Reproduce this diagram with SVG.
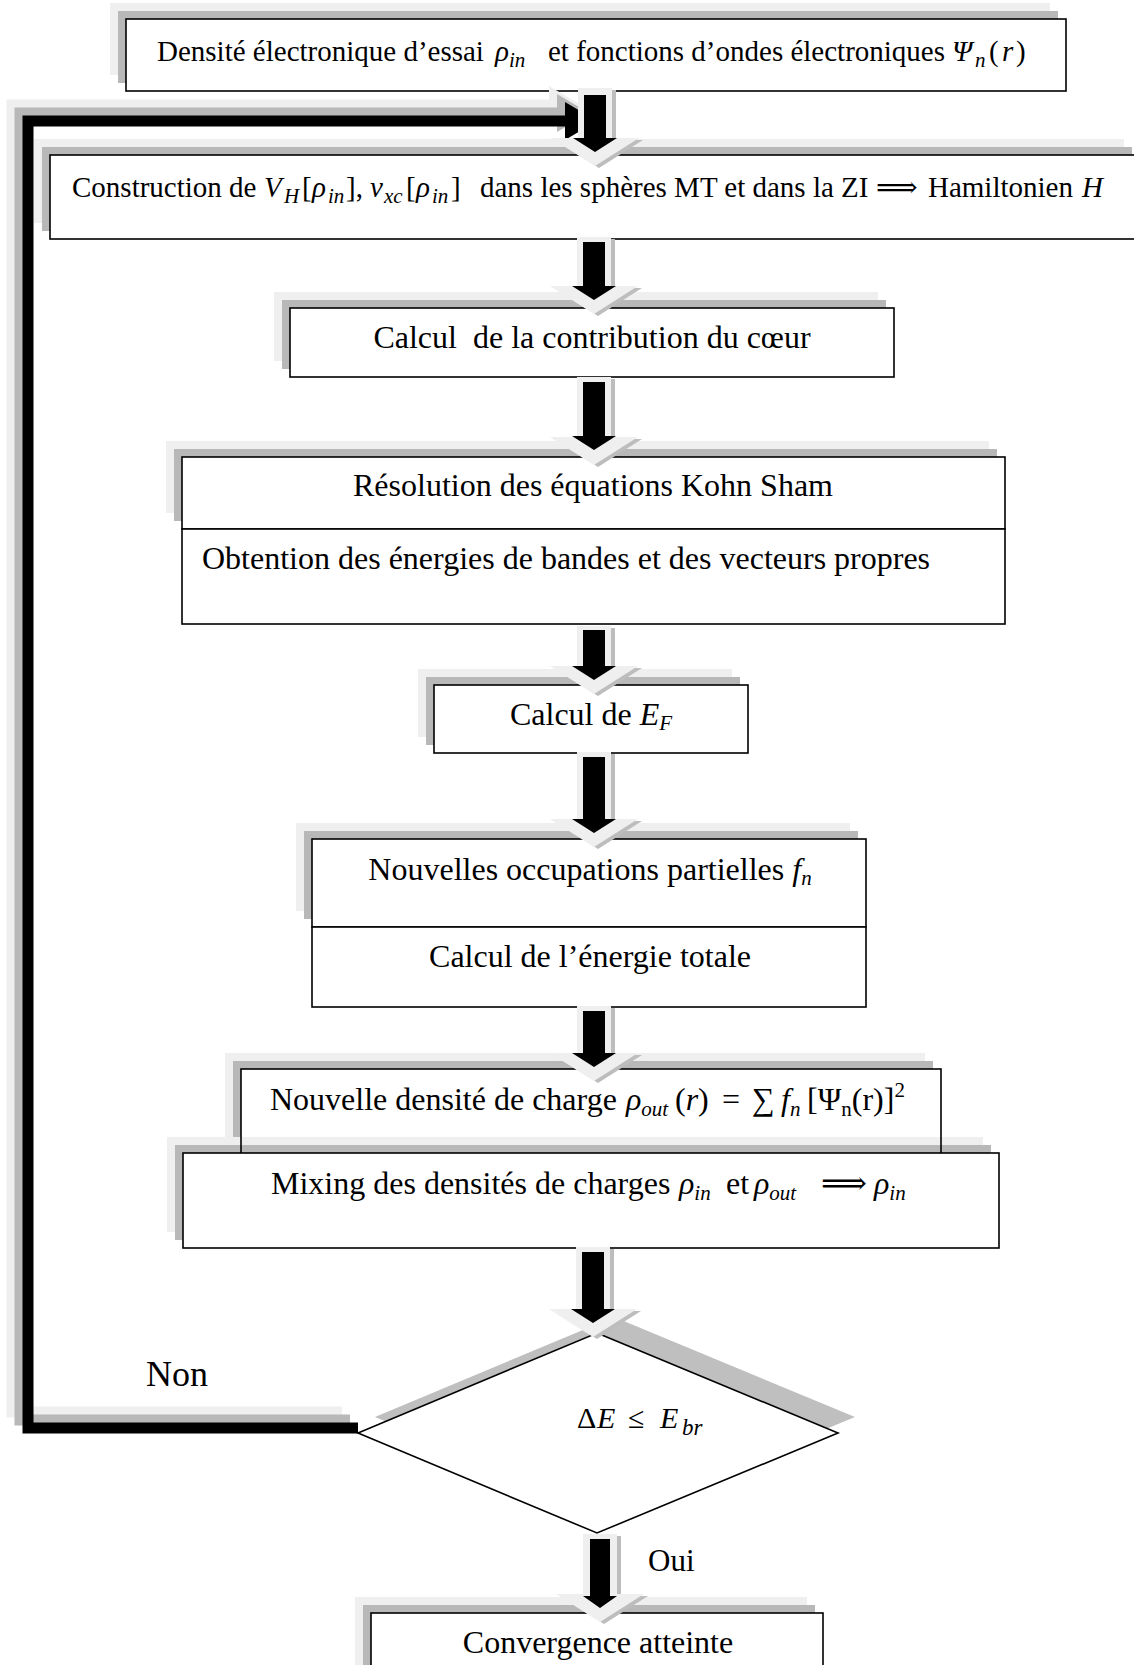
<svg xmlns="http://www.w3.org/2000/svg" width="1134" height="1665" viewBox="0 0 1134 1665">
<defs>
<style>
.box{fill:#fff;stroke:#000;stroke-width:1.6}
.sd{fill:#b8b8b8}
.sl{fill:#efefef}
.t{font-family:"Liberation Serif","Times New Roman",serif;fill:#000}
.f32{font-size:32px}
.f29{font-size:29px}
.sub{font-size:21px}
.m{font-family:"Liberation Serif","Times New Roman",serif;font-style:italic}
.ms{font-family:"DejaVu Serif","DejaVu Sans",serif;font-style:normal}
.ab{fill:#000}
.al{fill:#efefef}
.ag{fill:#bdbdbd}
.loopB{fill:none;stroke:#000;stroke-width:11;stroke-linejoin:miter}
.loopD{fill:none;stroke:#b8b8b8;stroke-width:11;stroke-linejoin:miter}
.loopL{fill:none;stroke:#efefef;stroke-width:11;stroke-linejoin:miter}
</style>
<clipPath id="clipE"><rect x="560" y="1390" width="146" height="60"/></clipPath>
</defs>
<rect width="1134" height="1665" fill="#fff"/>

<g id="n1">
<rect class="sl" x="110" y="3" width="940" height="72"/>
<rect class="sd" x="118" y="11" width="940" height="72"/>
<rect class="box" x="126" y="19" width="940" height="72"/>
<text class="t f29" y="61"><tspan x="157">Densité électronique d’essai</tspan><tspan class="m" x="495">ρ</tspan><tspan class="m sub" dy="6">in</tspan><tspan x="548" dy="-6">et fonctions d’ondes électroniques</tspan><tspan class="m" x="952">Ψ</tspan><tspan class="m sub" x="975" dy="6">n</tspan><tspan x="989" dy="-6">(</tspan><tspan class="m" x="1002">r</tspan><tspan x="1016">)</tspan></text>
</g>

<g id="n2">
<rect class="sl" x="34" y="139" width="1090" height="84"/>
<rect class="sd" x="42" y="147" width="1090" height="84"/>
<rect class="box" x="50" y="155" width="1090" height="84"/>
<text class="t f29" y="197"><tspan x="72">Construction de</tspan><tspan class="m" x="264">V</tspan><tspan class="m sub" x="284" dy="6">H</tspan><tspan x="302" dy="-6">[</tspan><tspan class="m" x="312">ρ</tspan><tspan class="m sub" x="328" dy="6">in</tspan><tspan x="346" dy="-6">],</tspan><tspan class="m" x="370">v</tspan><tspan class="m sub" x="384" dy="6">xc</tspan><tspan x="406" dy="-6">[</tspan><tspan class="m" x="416">ρ</tspan><tspan class="m sub" x="432" dy="6">in</tspan><tspan x="451" dy="-6">]</tspan><tspan x="480">dans les sphères MT et dans la ZI</tspan><tspan class="ms" x="876">⟹</tspan><tspan x="928">Hamiltonien</tspan><tspan class="m" x="1082">H</tspan></text>
</g>

<g id="n3">
<rect class="sl" x="274" y="292" width="604" height="69"/>
<rect class="sd" x="282" y="300" width="604" height="69"/>
<rect class="box" x="290" y="308" width="604" height="69"/>
<text class="t f32" x="592" y="348" text-anchor="middle">Calcul&#160; de la contribution du cœur</text>
</g>

<g id="n4">
<rect class="sl" x="166" y="441" width="823" height="72"/>
<rect class="sd" x="174" y="449" width="823" height="72"/>
<rect class="box" x="182" y="457" width="823" height="72"/>
<rect class="box" x="182" y="529" width="823" height="95"/>
<text class="t f32" x="593" y="496" text-anchor="middle">Résolution des équations Kohn Sham</text>
<text class="t f32" x="202" y="569">Obtention des énergies de bandes et des vecteurs propres</text>
</g>

<g id="n5">
<rect class="sl" x="418" y="669" width="314" height="68"/>
<rect class="sd" x="426" y="677" width="314" height="68"/>
<rect class="box" x="434" y="685" width="314" height="68"/>
<text class="t f32" x="591" y="725" text-anchor="middle">Calcul de <tspan class="m">E</tspan><tspan class="m sub" dy="5">F</tspan></text>
</g>

<g id="n6">
<rect class="sl" x="296" y="823" width="554" height="88"/>
<rect class="sd" x="304" y="831" width="554" height="88"/>
<rect class="box" x="312" y="839" width="554" height="88"/>
<rect class="box" x="312" y="927" width="554" height="80"/>
<text class="t f32" x="590" y="880" text-anchor="middle">Nouvelles occupations partielles <tspan class="m">f</tspan><tspan class="m sub" dy="5">n</tspan></text>
<text class="t f32" x="590" y="967" text-anchor="middle">Calcul de l’énergie totale</text>
</g>

<g id="n7">
<rect class="sl" x="225" y="1053" width="700" height="84"/>
<rect class="sd" x="233" y="1061" width="700" height="84"/>
<rect class="box" x="241" y="1069" width="700" height="84"/>
<text class="t f32" y="1110"><tspan x="270">Nouvelle densité de charge</tspan><tspan class="m" x="626">ρ</tspan><tspan class="m sub" dy="6">out</tspan><tspan x="675" dy="-6">(</tspan><tspan class="m">r</tspan><tspan>)</tspan><tspan x="722">=</tspan><tspan x="752">∑</tspan><tspan class="m" x="781">f</tspan><tspan class="m sub" dy="6">n</tspan><tspan x="807" dy="-6">[Ψ</tspan><tspan class="sub" dy="6">n</tspan><tspan dy="-6">(r)]</tspan><tspan class="sub" dy="-13">2</tspan></text>
</g>

<g id="n8">
<rect class="sl" x="167" y="1137" width="816" height="95"/>
<rect class="sd" x="175" y="1145" width="816" height="95"/>
<line x1="241" y1="1137" x2="241" y2="1153" stroke="#000" stroke-width="1.6"/>
<line x1="941" y1="1137" x2="941" y2="1153" stroke="#000" stroke-width="1.6"/>
<rect class="box" x="183" y="1153" width="816" height="95"/>
<text class="t f32" y="1194"><tspan x="271">Mixing des densités de charges</tspan><tspan class="m" x="679">ρ</tspan><tspan class="m sub" dy="6">in</tspan><tspan x="726" dy="-6">et</tspan><tspan class="m" x="754">ρ</tspan><tspan class="m sub" dy="6">out</tspan><tspan class="ms" x="821" dy="-6">⟹</tspan><tspan class="m" x="874">ρ</tspan><tspan class="m sub" dy="6">in</tspan></text>
</g>

<g id="n9">
<polygon fill="#bfbfbf" points="614,1317 855,1417 614,1517 375,1417"/>
<polygon class="box" points="597,1333 838,1433 597,1533 358,1433"/>
<g clip-path="url(#clipE)">
<text class="t" style="font-size:30px" y="1428"><tspan x="577">Δ</tspan><tspan class="m" x="597">E</tspan><tspan x="628">≤</tspan><tspan class="m" x="660">E</tspan><tspan class="m" style="font-size:23px" x="682" dy="7">br</tspan></text>
</g>
</g>

<g id="n10">
<rect class="sl" x="355" y="1597" width="452" height="100"/>
<rect class="sd" x="363" y="1605" width="452" height="100"/>
<rect class="box" x="371" y="1613" width="452" height="100"/>
<text class="t f32" x="598" y="1653" text-anchor="middle">Convergence atteinte</text>
</g>

<g id="labels">
<text class="t" style="font-size:36px" x="146" y="1386">Non</text>
<text class="t" style="font-size:31px" x="648" y="1571">Oui</text>
</g>

<g id="connectors">
<g id="loop">
<g transform="translate(-16,-16)">
<polyline class="loopL" points="358,1428 28,1428 28,121 566,121"/>
<polygon fill="#efefef" points="565,102 565,140 597,121"/>
</g>
<g transform="translate(-8,-8)">
<polyline class="loopD" points="358,1428 28,1428 28,121 566,121"/>
<polygon fill="#b8b8b8" points="565,102 565,140 597,121"/>
</g>
<polyline class="loopB" points="358,1428 28,1428 28,121 566,121"/>
<polygon class="ab" points="565,102 565,140 597,121"/>
</g>

<g id="a1">
<polygon class="ag" points="578,88 612,88 612,138 639,138 595,166 551,138 578,138" transform="translate(4,2)"/>
<polygon class="al" points="578,88 612,88 612,138 639,138 595,166 551,138 578,138"/>
<polygon class="ab" points="584,95 606,95 606,138 617,138 595,152 573,138 584,138"/>
</g>
<g id="a2">
<polygon class="ag" points="577,237 611,237 611,286 638,286 594,314 550,286 577,286" transform="translate(4,2)"/>
<polygon class="al" points="577,237 611,237 611,286 638,286 594,314 550,286 577,286"/>
<polygon class="ab" points="583,242 605,242 605,286 616,286 594,300 572,286 583,286"/>
</g>
<g id="a3">
<polygon class="ag" points="577,377 611,377 611,437 638,437 594,465 550,437 577,437" transform="translate(4,2)"/>
<polygon class="al" points="577,377 611,377 611,437 638,437 594,465 550,437 577,437"/>
<polygon class="ab" points="583,382 605,382 605,436 616,436 594,450 572,436 583,436"/>
</g>
<g id="a4">
<polygon class="ag" points="577,626 611,626 611,666 638,666 594,694 550,666 577,666" transform="translate(4,2)"/>
<polygon class="al" points="577,626 611,626 611,666 638,666 594,694 550,666 577,666"/>
<polygon class="ab" points="583,630 605,630 605,666 616,666 594,680 572,666 583,666"/>
</g>
<g id="a5">
<polygon class="ag" points="577,752 611,752 611,819 638,819 594,847 550,819 577,819" transform="translate(4,2)"/>
<polygon class="al" points="577,752 611,752 611,819 638,819 594,847 550,819 577,819"/>
<polygon class="ab" points="583,757 605,757 605,819 616,819 594,833 572,819 583,819"/>
</g>
<g id="a6">
<polygon class="ag" points="577,1006 611,1006 611,1053 638,1053 594,1081 550,1053 577,1053" transform="translate(4,2)"/>
<polygon class="al" points="577,1006 611,1006 611,1053 638,1053 594,1081 550,1053 577,1053"/>
<polygon class="ab" points="583,1011 605,1011 605,1053 616,1053 594,1067 572,1053 583,1053"/>
</g>
<g id="a7">
<polygon class="ag" points="576,1247 610,1247 610,1309 637,1309 593,1337 549,1309 576,1309" transform="translate(4,2)"/>
<polygon class="al" points="576,1247 610,1247 610,1309 637,1309 593,1337 549,1309 576,1309"/>
<polygon class="ab" points="582,1252 604,1252 604,1309 615,1309 593,1323 571,1309 582,1309"/>
</g>
<g id="a8">
<polygon class="ag" points="583,1534 617,1534 617,1594 644,1594 600,1622 556,1594 583,1594" transform="translate(4,2)"/>
<polygon class="al" points="583,1534 617,1534 617,1594 644,1594 600,1622 556,1594 583,1594"/>
<polygon class="ab" points="590,1539 610,1539 610,1596 617,1596 600,1608 583,1596 590,1596"/>
</g>
</g>
</svg>
